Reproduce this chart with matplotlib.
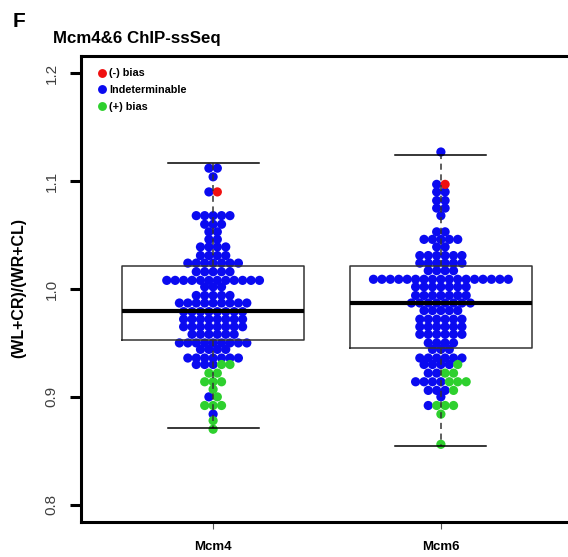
#!/usr/bin/env python3
"""
Beeswarm + boxplot of the strand bias ratio (WL+CR)/(WR+CL) for Mcm4 and Mcm6 ChIP-ssSeq.
"""

import numpy as np
import matplotlib

matplotlib.use("Agg")
import matplotlib.pyplot as plt
from matplotlib.lines import Line2D

plt.rcParams["font.family"] = ["Liberation Sans", "DejaVu Sans"]

groups = ["Mcm4", "Mcm6"]

# Indeterminable sites: ratio level and number of sites at that level
mcm4_levels = [1.112, 1.104, 1.090, 1.068, 1.060, 1.053, 1.046, 1.039, 1.031, 1.024,
               1.016, 1.008, 1.002, 0.994, 0.987, 0.979, 0.972, 0.965, 0.958, 0.950,
               0.944, 0.936, 0.930, 0.900, 0.884]
mcm4_counts = [2, 1, 1, 5, 3, 2, 2, 4, 4, 7,
               5, 12, 3, 5, 9, 8, 8, 8, 6, 9,
               4, 7, 3, 1, 1]
mcm6_levels = [1.127, 1.097, 1.090, 1.082, 1.075, 1.068, 1.053, 1.046, 1.039, 1.031,
               1.024, 1.017, 1.009, 1.002, 0.994, 0.987, 0.980, 0.972, 0.965, 0.958,
               0.950, 0.944, 0.936, 0.930, 0.922, 0.914, 0.906, 0.900, 0.892]
mcm6_counts = [1, 1, 2, 2, 2, 1, 2, 5, 2, 6,
               6, 4, 17, 7, 7, 8, 5, 6, 6, 6,
               4, 3, 6, 4, 2, 4, 3, 1, 1]

# Sites called (-) bias and (+) bias
mcm4_neg = [1.090]
mcm4_pos = [0.930, 0.930, 0.922, 0.922, 0.914, 0.914, 0.914, 0.907, 0.900,
            0.892, 0.892, 0.892, 0.878, 0.870]
mcm6_neg = [1.097]
mcm6_pos = [0.930, 0.922, 0.922, 0.914, 0.914, 0.914, 0.906, 0.892, 0.892,
            0.892, 0.884, 0.856]

# Box statistics (lower whisker, Q1, median, Q3, upper whisker)
mcm4_box = [0.871, 0.953, 0.980, 1.021, 1.117]
mcm6_box = [0.854, 0.945, 0.987, 1.021, 1.124]

y_ticks = [0.8, 0.9, 1.0, 1.1, 1.2]

COL_NEG = "#F01010"
COL_IND = "#0A0AF0"
COL_POS = "#2ED02E"


def swarm_offsets(values, dx=0.037):
    """Centre the points of each level side by side, in input order."""
    values = np.asarray(values)
    offsets = np.zeros(len(values))
    for level in np.unique(values):
        idx = np.where(values == level)[0]
        n = len(idx)
        offsets[idx] = (np.arange(n) - (n - 1) / 2) * dx
    return offsets


def draw_group(ax, pos, levels, counts, neg, pos_bias):
    ind = list(np.repeat(levels, counts))
    values = ind + list(neg) + list(pos_bias)
    colors = [COL_IND] * len(ind) + [COL_NEG] * len(neg) + [COL_POS] * len(pos_bias)
    x = pos + swarm_offsets(values)
    ax.scatter(x, values, s=44, c=colors, edgecolors="none", zorder=2)


def main():
    fig = plt.figure(figsize=(5.68, 5.57), dpi=100)
    ax = fig.add_axes([81 / 568, 35 / 557, 492 / 568, 466 / 557])

    draw_group(ax, 1, mcm4_levels, mcm4_counts, mcm4_neg, mcm4_pos)
    draw_group(ax, 2, mcm6_levels, mcm6_counts, mcm6_neg, mcm6_pos)

    stats = []
    for name, b in zip(groups, [mcm4_box, mcm6_box]):
        stats.append({"label": name, "whislo": b[0], "q1": b[1], "med": b[2],
                      "q3": b[3], "whishi": b[4], "fliers": []})
    ax.bxp(stats, positions=[1, 2], widths=0.8, showfliers=False,
           patch_artist=False,
           boxprops=dict(color="#333333", linewidth=1.1),
           medianprops=dict(color="black", linewidth=3.0, solid_capstyle="butt"),
           whiskerprops=dict(color="#333333", linewidth=1.1, linestyle=(0, (4, 3))),
           capprops=dict(color="black", linewidth=1.1),
           capwidths=0.4, zorder=3)

    ax.set_xlim(0.42, 2.58)
    ax.set_ylim(0.784, 1.216)
    ax.set_yticks(y_ticks)
    ax.set_yticklabels([f"{v:.1f}" for v in y_ticks], rotation=90, va="center",
                       fontsize=11, color="#404040")
    ax.set_xticks([1, 2])
    ax.set_xticklabels(groups, fontsize=9.5, fontweight="bold")
    ax.tick_params(axis="y", length=8, width=2.2, pad=8)
    ax.tick_params(axis="x", length=5, width=0.8, color="#555555", pad=9)

    for side in ["left", "bottom", "top", "right"]:
        ax.spines[side].set_linewidth(2.2)

    handles = [Line2D([], [], marker="o", linestyle="none", markersize=6.4,
                      markerfacecolor=c, markeredgecolor="none")
               for c in [COL_NEG, COL_IND, COL_POS]]
    ax.legend(handles, ["(-) bias", "Indeterminable", "(+) bias"],
              loc="upper left", bbox_to_anchor=(0.016, 0.992), frameon=False,
              handlelength=0.8, handletextpad=0.3, labelspacing=0.62,
              borderaxespad=0.4, prop={"size": 7.8, "weight": "bold"})

    fig.text(13 / 568, 1 - 27 / 557, "F", fontsize=15, fontweight="bold")
    fig.text(53 / 568, 1 - 43 / 557, "Mcm4&6 ChIP-ssSeq", fontsize=12.2,
             fontweight="bold")
    fig.text(19 / 568, 1 - 288 / 557, "(WL+CR)/(WR+CL)", rotation=90,
             fontsize=11.5, fontweight="bold", ha="center", va="center")

    fig.savefig("out.png", dpi=100)
    plt.close(fig)


if __name__ == "__main__":
    main()
